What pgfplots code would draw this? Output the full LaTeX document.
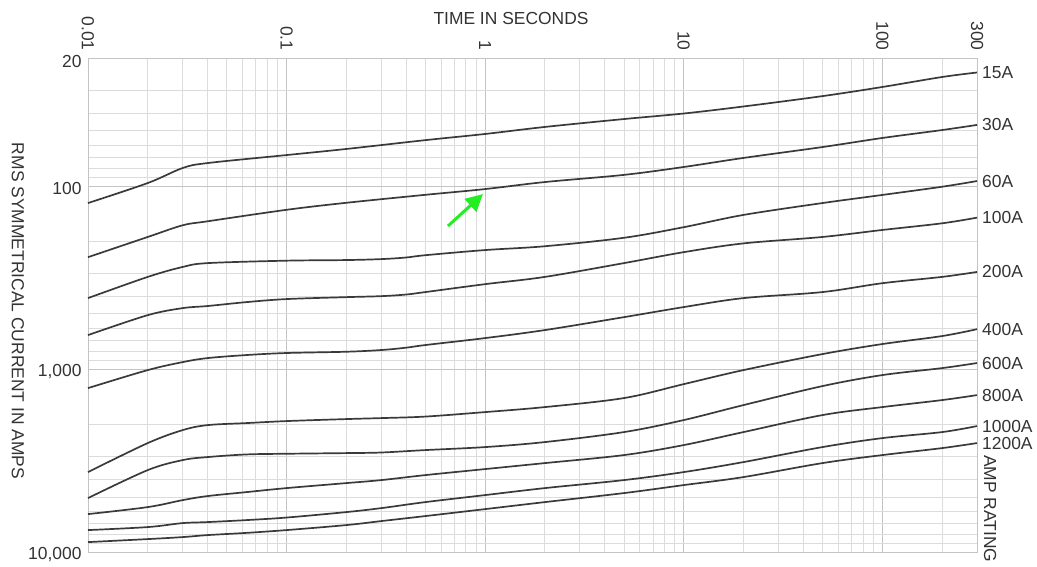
\documentclass[border=0pt]{standalone}
\usepackage{fontspec}
\setmainfont{Liberation Sans}
\usepackage{pgfplots}
\pgfplotsset{compat=1.18}
\usetikzlibrary{arrows.meta}
\definecolor{txt}{HTML}{333333}
\definecolor{crv}{HTML}{3A3A3A}
\definecolor{gmaj}{HTML}{C4C4C4}
\definecolor{gmin}{HTML}{DCDCDC}
\definecolor{arrowgreen}{HTML}{22EE22}
\newcommand\lab{\fontsize{17.5}{20}\selectfont}
\tikzset{curvelab/.style={anchor=west, font=\lab, text=txt, xshift=1bp},
  curve/.style={draw=crv, line width=1.7bp, smooth, tension=0.55, mark=none}}
\begin{document}
\begin{tikzpicture}
\path[use as bounding box] (0,0) rectangle (1037bp,-567bp);
\begin{axis}[
  at={(532.5bp,-305bp)}, anchor=center,
  scale only axis, width=889bp, height=494bp,
  xmode=log, ymode=log, y dir=reverse,
  xmin=0.01, xmax=300, ymin=20, ymax=10000,
  xtick={0.01,0.1,1,10,100,300},
  xticklabels={0.01,0.1,1,10,100,300},
  minor xtick={0.02,0.03,0.04,0.05,0.06,0.07,0.08,0.09,0.2,0.3,0.4,0.5,0.6,0.7,0.8,0.9,2,3,4,5,6,7,8,9,20,30,40,50,60,70,80,90,200},
  ytick={20,100,1000,10000},
  yticklabels={20,100,{1,000},{10,000}},
  minor ytick={30,40,50,60,70,80,90,200,300,400,500,600,700,800,900,2000,3000,4000,5000,6000,7000,8000,9000},
  xticklabel pos=right,
  xticklabel style={rotate=-90, anchor=east, font=\lab, text=txt},
  xticklabel shift={4bp},
  yticklabel style={font=\lab, text=txt, yshift=-3bp},
  yticklabel shift={3bp},
  /pgf/number format/assume math mode=true,
  grid=both,
  major grid style={gmaj, line width=0.8bp},
  minor grid style={gmin, line width=0.8bp},
  major tick length=0pt, minor tick length=0pt,
  axis line style={gmaj, line width=0.8bp},
  clip=false,
]
\addplot[curve] coordinates {(0.01,124) (0.02,96.4) (0.03,79.8) (0.04,75) (0.1,67.8) (0.2,62.8) (0.5,56.2) (1,52) (2,47.6) (5,43.1) (10,40.2) (20,36.8) (50,32.3) (100,28.8) (200,25.4) (300,24)} node[pos=1, curvelab] {15A};
\addplot[curve] coordinates {(0.01,245) (0.02,190) (0.03,164) (0.04,156) (0.1,135) (0.2,123.6) (0.5,111.8) (1,104) (2,95.2) (5,87) (10,78.8) (20,70.3) (50,61.3) (100,54.7) (200,49.5) (300,46.4)} node[pos=1, curvelab] {30A};
\addplot[curve] coordinates {(0.01,410) (0.02,314) (0.03,277) (0.04,264) (0.1,256) (0.2,254) (0.3,251) (0.4,246) (0.5,239) (1,224) (2,213.5) (5,192) (10,168) (20,144) (50,124) (100,112) (200,101) (300,94)} node[pos=1, curvelab] {60A};
\addplot[curve] coordinates {(0.01,653) (0.02,508) (0.03,465) (0.04,453) (0.063,431) (0.1,415) (0.2,405) (0.3,400) (0.4,392) (0.5,380) (1,344) (2,314) (5,264) (10,230) (20,206) (50,190) (100,174) (200,160) (300,149)} node[pos=1, curvelab] {100A};
\addplot[curve] coordinates {(0.01,1272) (0.02,1014) (0.03,917) (0.04,872) (0.063,839) (0.1,818) (0.2,805) (0.3,788) (0.4,765) (0.5,740) (1,678) (2,613) (5,521) (10,459) (20,410) (50,380) (100,340) (200,314) (300,295)} node[pos=1, curvelab] {200A};
\addplot[curve] coordinates {(0.01,3659) (0.02,2540) (0.03,2157) (0.04,2026) (0.063,1975) (0.1,1926) (0.2,1878) (0.3,1855) (0.5,1820) (1,1720) (2,1615) (5,1442) (10,1210) (20,1014) (50,829) (100,731) (200,661) (300,606)} node[pos=1, curvelab] {400A};
\addplot[curve] coordinates {(0.01,5074) (0.02,3568) (0.03,3146) (0.04,3029) (0.063,2930) (0.1,2905) (0.2,2881) (0.3,2860) (0.5,2774) (1,2671) (2,2508) (5,2212) (10,1902) (20,1575) (50,1240) (100,1080) (200,989) (300,928)} node[pos=1, curvelab] {600A};
\addplot[curve] coordinates {(0.01,6207) (0.02,5683) (0.03,5204) (0.04,4947) (0.063,4705) (0.1,4475) (0.2,4202) (0.3,4046) (0.5,3800) (1,3523) (2,3267) (5,2954) (10,2605) (20,2212) (50,1786) (100,1615) (200,1479) (300,1389)} node[pos=1, curvelab] {800A};
\addplot[curve] coordinates {(0.01,7590) (0.02,7308) (0.03,6950) (0.04,6863) (0.063,6692) (0.1,6482) (0.2,6052) (0.3,5757) (0.5,5337) (1,4886) (2,4475) (5,4046) (10,3659) (20,3226) (50,2671) (100,2386) (200,2212) (300,2051)} node[pos=1, curvelab] {1000A};
\addplot[curve] coordinates {(0.01,8828) (0.02,8500) (0.03,8288) (0.04,8083) (0.063,7860) (0.1,7590) (0.2,7127) (0.3,6777) (0.5,6363) (1,5829) (2,5337) (5,4765) (10,4309) (20,3896) (50,3267) (100,2954) (200,2706) (300,2540)} node[pos=1, curvelab] {1200A};
\draw[arrowgreen, line width=3bp, -{Triangle[length=17bp,width=17bp]}] (axis cs:0.65,165.6) -- (axis cs:0.975,110.7);
\end{axis}
\node[font=\lab, text=txt] at (511bp,-18bp) {TIME IN SECONDS};
\node[font=\lab, text=txt, rotate=-90] at (18bp,-311bp) {RMS SYMMETRICAL CURRENT IN AMPS};
\node[font=\lab, text=txt, rotate=-90, anchor=west, inner sep=0pt] at (990bp,-455bp) {AMP RATING};
\end{tikzpicture}
\end{document}
